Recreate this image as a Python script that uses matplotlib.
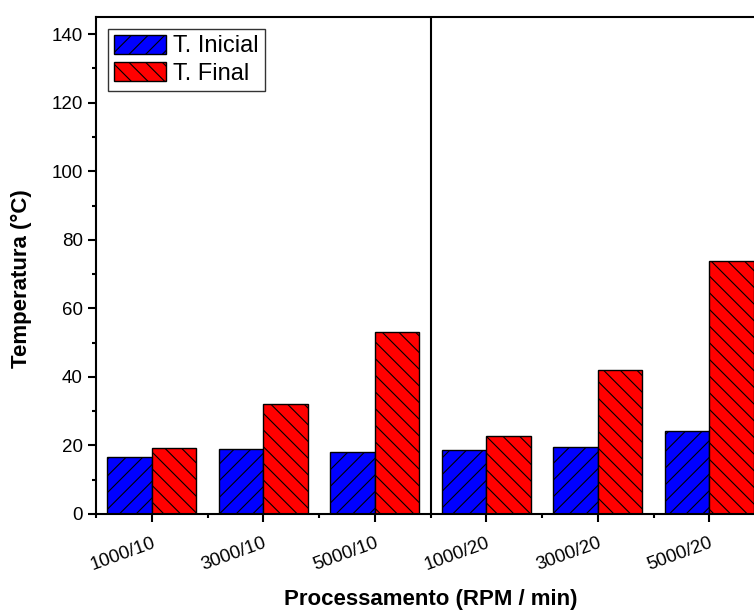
import matplotlib.pyplot as plt
import numpy as np

plt.rcParams["font.family"] = ["Liberation Sans", "DejaVu Sans"]
plt.rcParams["hatch.linewidth"] = 0.8

processos = ["1000/10", "3000/10", "5000/10", "1000/20", "3000/20", "5000/20"]
t_inicial = [16.7, 19.0, 18.0, 18.7, 19.5, 24.2]
t_final = [19.2, 32.1, 53.1, 22.7, 42.0, 73.8]

x = np.arange(len(processos))
w = 0.4

fig = plt.figure(figsize=(7.54, 6.10), dpi=100)
# the frame runs past the right edge of the figure
ax = fig.add_axes([96 / 754, 96 / 610, 669 / 754, 497 / 610])

ax.bar(x - w / 2, t_inicial, w, color="#0000ff", edgecolor="black", linewidth=1.0,
       hatch="//", label="T. Inicial")
ax.bar(x + w / 2, t_final, w, color="#ff0000", edgecolor="black", linewidth=1.0,
       hatch="\\\\", label="T. Final")

ax.axvline(2.5, ymin=0.005, ymax=1, color="black", linewidth=1.5)

ax.set_xlim(-0.5, 5.5)
ax.set_ylim(0, 145)
ax.set_yticks(np.arange(0, 141, 20))
ax.set_yticks(np.arange(0, 141, 10), minor=True)
ax.set_xticks(x)
ax.set_xticks(np.arange(-0.5, 5.6, 1), minor=True)
ax.set_xticklabels(processos, rotation=20, ha="right", rotation_mode="anchor")

ax.tick_params(axis="both", which="major", direction="out", length=6, width=1.5,
               labelsize=13.5)
ax.tick_params(axis="x", which="major", pad=9)
ax.tick_params(axis="both", which="minor", direction="out", length=3, width=1.5)
for s in ax.spines.values():
    s.set_linewidth(1.5)

ax.set_xlabel("Processamento (RPM / min)", fontsize=16, fontweight="bold", labelpad=11)
ax.set_ylabel("Temperatura (°C)", fontsize=16, fontweight="bold")
ax.yaxis.set_label_coords(-0.096, 0.473)

leg = ax.legend(loc="upper left", fontsize=17, frameon=True, fancybox=False,
                edgecolor="black", handlelength=2.2, handleheight=0.85,
                borderpad=0.25, labelspacing=0.2, handletextpad=0.3,
                borderaxespad=0, bbox_to_anchor=(0.018, 0.976))
leg.get_frame().set_linewidth(1.0)

fig.savefig("out.png", dpi=100)
